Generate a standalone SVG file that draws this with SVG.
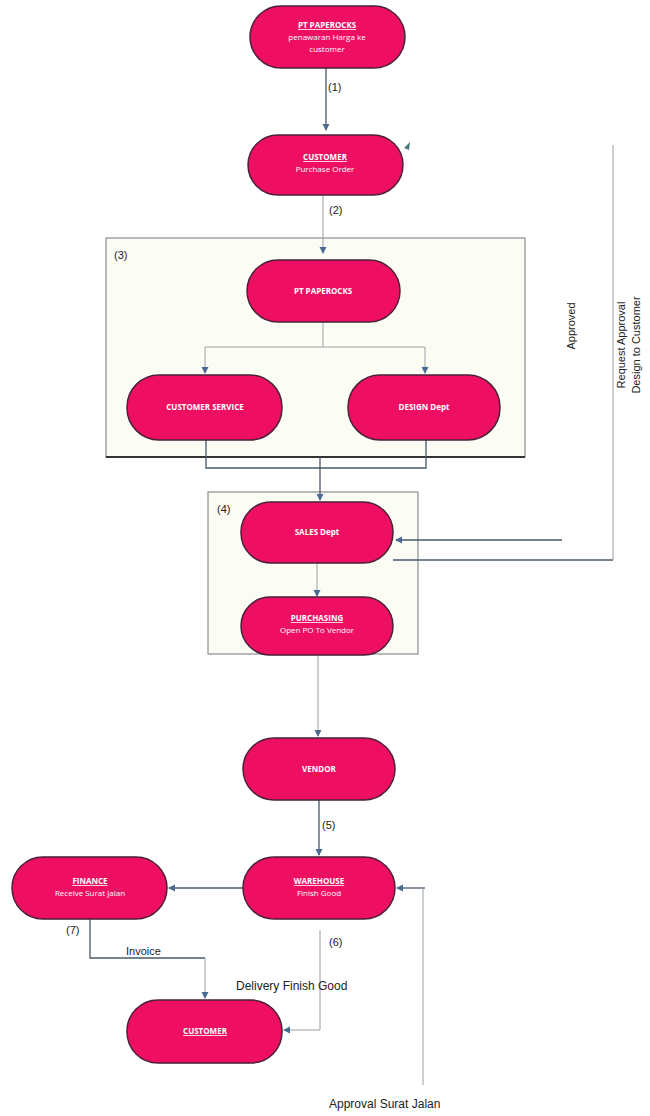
<svg xmlns="http://www.w3.org/2000/svg" width="650" height="1116" viewBox="0 0 650 1116">
<style>
.pill{fill:#ef0f62;stroke:#4a2138;stroke-width:1.5}
.t{font-family:"Open Sans","Liberation Sans",sans-serif;font-size:8px;fill:#ffffff;text-anchor:middle}
.b{font-weight:bold}
.u{text-decoration:underline;font-weight:bold}
.grp{fill:#fbfdf5;stroke:#8a9090;stroke-width:1.2}
.c{fill:none;stroke:#485868;stroke-width:1.3}
.cl{fill:none;stroke:#9aa0a6;stroke-width:1}
.lab{font-family:"Liberation Sans",sans-serif;font-size:11px;fill:#222}
.lab2{font-family:"Liberation Sans",sans-serif;font-size:12px;fill:#222}
</style>
<defs>
<marker id="ar" markerWidth="8" markerHeight="8" refX="6" refY="4" orient="auto" markerUnits="userSpaceOnUse">
<path d="M0,0.5 L7,4 L0,7.5 Z" fill="#4a6a90"/>
</marker>
</defs>
<rect width="650" height="1116" fill="#ffffff"/>

<g id="group3"><rect class="grp" x="106" y="238" width="419" height="219"/><line x1="106" y1="457" x2="525" y2="457" stroke="#333" stroke-width="2"/><text class="lab" x="114" y="259">(3)</text></g>
<g id="group4"><rect class="grp" x="208" y="492" width="210" height="162"/><text class="lab" x="217" y="513">(4)</text></g>

<g id="connectors">
<path class="c" d="M326,68 V130" marker-end="url(#ar)"/>
<path class="cl" d="M323,195 V253" marker-end="url(#ar)"/>
<path class="cl" d="M323,322 V347 M205,347 H425"/>
<path class="cl" d="M205,347 V373" marker-end="url(#ar)"/>
<path class="cl" d="M425,347 V373" marker-end="url(#ar)"/>
<path class="c" d="M206,440 V468 H426 V440"/>
<path class="c" d="M320,457 V500" marker-end="url(#ar)"/>
<path class="cl" d="M317,563 V596" marker-end="url(#ar)"/>
<path class="c" d="M562,540 H396" marker-end="url(#ar)"/>
<path class="c" d="M393,560 H613"/>
<path class="cl" d="M613,560 V145"/>
<path d="M404,148 L410,142 L409,150 Z" fill="#4a7a80"/>
<path class="cl" d="M318,655 V736" marker-end="url(#ar)"/>
<path class="c" d="M319,800 V855" marker-end="url(#ar)"/>
<path class="c" d="M243,888 H169" marker-end="url(#ar)"/>
<path class="c" d="M425,888 H397" marker-end="url(#ar)"/>
<path class="cl" d="M423,888 V1085" stroke="#e0e0e0"/>
<path class="c" d="M90,919 V958 H205"/>
<path class="cl" d="M205,958 V998" marker-end="url(#ar)"/>
<path class="cl" d="M320,930 V1030 H284" marker-end="url(#ar)"/>
<text class="lab" x="328" y="91">(1)</text>
<text class="lab" x="329" y="214">(2)</text>
<text class="lab" x="322" y="829">(5)</text>
<text class="lab" x="329" y="946">(6)</text>
<text class="lab" x="66" y="934">(7)</text>
<text class="lab" x="126" y="955" font-size="8">Invoice</text>
<text class="lab2" x="236" y="990">Delivery Finish Good</text>
<text class="lab2" x="329" y="1108">Approval Surat Jalan</text>
<text class="lab" transform="translate(575,326) rotate(-90)" text-anchor="middle">Approved</text>
<text class="lab" transform="translate(625,345) rotate(-90)" text-anchor="middle">Request Approval</text>
<text class="lab" transform="translate(640,345) rotate(-90)" text-anchor="middle">Design to Customer</text>
</g>

<g id="n1"><rect class="pill" x="250" y="6" width="155" height="62" rx="31"/><text class="t u" x="327" y="28">PT PAPEROCKS</text><text class="t" x="327" y="40">penawaran Harga ke</text><text class="t" x="327" y="52">customer</text></g>
<g id="n2"><rect class="pill" x="248" y="135" width="155" height="60" rx="30"/><text class="t u" x="325" y="160">CUSTOMER</text><text class="t" x="325" y="172">Purchase Order</text></g>
<g id="n3"><rect class="pill" x="247" y="260" width="153" height="62" rx="31"/><text class="t b" x="323" y="294">PT PAPEROCKS</text></g>
<g id="n4"><rect class="pill" x="127" y="375" width="155" height="65" rx="32"/><text class="t b" x="205" y="410">CUSTOMER SERVICE</text></g>
<g id="n5"><rect class="pill" x="348" y="375" width="152" height="65" rx="32"/><text class="t b" x="424" y="410">DESIGN Dept</text></g>
<g id="n6"><rect class="pill" x="241" y="502" width="152" height="61" rx="30"/><text class="t b" x="317" y="535">SALES Dept</text></g>
<g id="n7"><rect class="pill" x="241" y="597" width="152" height="58" rx="29"/><text class="t u" x="317" y="621">PURCHASING</text><text class="t" x="317" y="633">Open PO To Vendor</text></g>
<g id="n8"><rect class="pill" x="243" y="738" width="152" height="62" rx="31"/><text class="t b" x="319" y="772">VENDOR</text></g>
<g id="n9"><rect class="pill" x="243" y="857" width="152" height="62" rx="31"/><text class="t u" x="319" y="884">WAREHOUSE</text><text class="t" x="319" y="896">Finish Good</text></g>
<g id="n10"><rect class="pill" x="12" y="857" width="155" height="62" rx="31"/><text class="t u" x="90" y="884">FINANCE</text><text class="t" x="90" y="896">Receive Surat Jalan</text></g>
<g id="n11"><rect class="pill" x="127" y="1000" width="155" height="63" rx="31"/><text class="t u" x="205" y="1034">CUSTOMER</text></g>
</svg>
